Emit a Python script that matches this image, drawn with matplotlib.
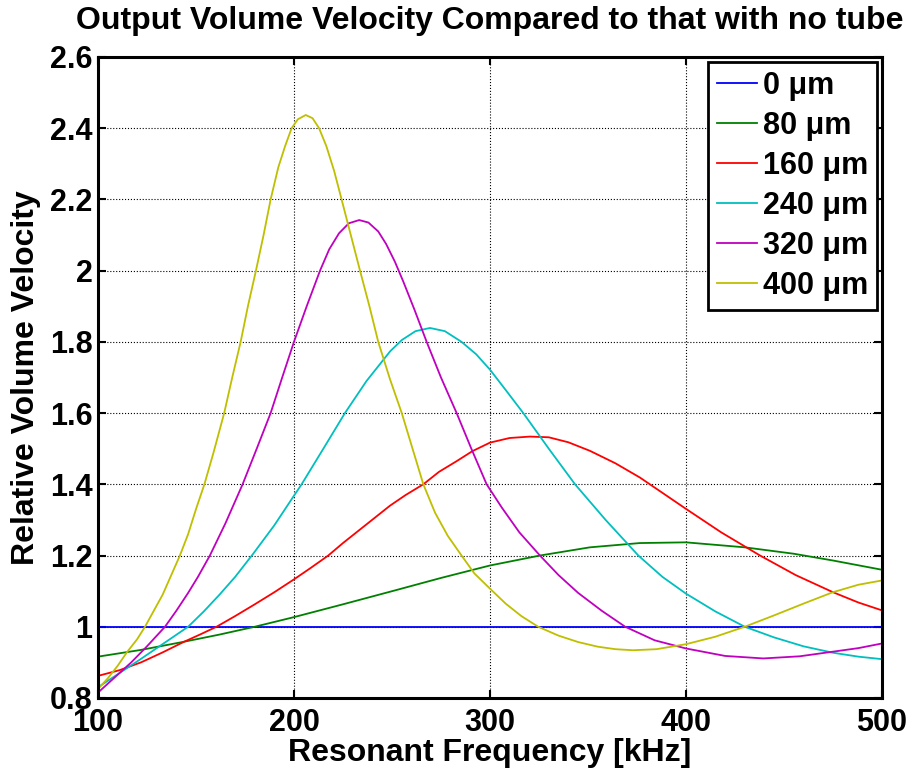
"""
Relative output volume velocity vs resonant frequency
"""
import numpy as np
import matplotlib
matplotlib.use('Agg')
import matplotlib.pyplot as plt

# -----------------------------------------------------------------------------------
# DATA
# -----------------------------------------------------------------------------------
LABELS = ['0 \u03bcm', '80 \u03bcm', '160 \u03bcm', '240 \u03bcm', '320 \u03bcm', '400 \u03bcm']
COLORS = ['#0000ff', '#008000', '#ff0000', '#00bfbf', '#bf00bf', '#bfbf00']

f_0   = [100, 500]
v_0   = [1.0, 1.0]

f_80  = [100, 122, 144, 162, 180, 200, 225, 251.5, 275, 300, 325.5, 351, 376.5, 400,
         430, 455, 475, 500]
v_80  = [0.916, 0.935, 0.958, 0.978, 1.0, 1.027, 1.063, 1.102, 1.137, 1.172, 1.2, 1.223, 1.235, 1.237,
         1.223, 1.205, 1.186, 1.160]

f_160 = [100, 111, 122, 133, 144, 152, 160.5, 170, 180, 190, 200, 208.5, 217.5, 225, 233, 241,
         249, 257, 266, 274, 283, 291, 300, 310, 320.4, 330, 340, 351, 364, 376.5, 388, 400,
         418, 437.8, 456, 475, 488, 500]
v_160 = [0.862, 0.878, 0.90, 0.928, 0.958, 0.978, 1.0, 1.03, 1.063, 1.097, 1.133, 1.165, 1.2, 1.235, 1.27, 1.305,
         1.34, 1.37, 1.4, 1.435, 1.465, 1.493, 1.517, 1.53, 1.534, 1.532, 1.518, 1.494, 1.459, 1.419, 1.376, 1.331,
         1.265, 1.2, 1.145, 1.097, 1.068, 1.046]

f_240 = [100, 111, 122, 134, 146, 154, 162, 170, 179.2, 190, 200, 203.9, 215, 226, 237, 249,
         255, 262, 269.4, 277, 285.5, 293, 300, 308, 317, 330, 343.4, 359, 375.7, 388, 400,
         415, 430, 445, 460, 475, 488, 500]
v_240 = [0.83, 0.87, 0.91, 0.955, 1.0, 1.043, 1.09, 1.14, 1.205, 1.285, 1.368, 1.4, 1.5, 1.6, 1.69, 1.773,
         1.805, 1.83, 1.839, 1.83, 1.8, 1.765, 1.722, 1.665, 1.6, 1.5, 1.4, 1.3, 1.2, 1.14, 1.093,
         1.043, 1.0, 0.97, 0.945, 0.927, 0.916, 0.909]

f_320 = [100, 108, 117, 125, 134.2, 140, 146, 151, 157.1, 165, 173.8, 181, 188.1, 194, 200,
         206.5, 213.3, 218, 223, 228, 233.3, 238, 243, 247, 251.5, 255.8, 261.5, 267.7, 275,
         283, 290.5, 298.3, 306, 315, 325.5, 335, 345, 357, 369, 384, 400, 420, 439.5, 458,
         475, 488, 500]
v_320 = [0.815, 0.855, 0.90, 0.945, 1.0, 1.045, 1.095, 1.14, 1.2, 1.29, 1.4, 1.5, 1.6, 1.7, 1.8,
         1.9, 2.0, 2.06, 2.105, 2.133, 2.142, 2.135, 2.11, 2.075, 2.025, 1.969, 1.89, 1.8, 1.7,
         1.6, 1.5, 1.4, 1.335, 1.265, 1.2, 1.145, 1.095, 1.045, 1.0, 0.962, 0.939, 0.918, 0.911, 0.917,
         0.93, 0.94, 0.953]

f_400 = [100, 105, 110, 115, 120, 124, 128, 133, 137, 141.8, 146, 150, 154.3, 159, 164.4,
         168.5, 172.8, 176.5, 180.6, 184.5, 188.1, 192, 195.5, 198.8, 202, 206, 209.5, 212.8,
         216.5, 220.5, 224.3, 229, 233.7, 238.5, 243, 249, 255, 260.5, 266, 272, 278.5, 285.5,
         292, 300, 308, 316, 324.6, 335, 345, 355, 364, 373, 385, 400, 415, 430, 445, 460,
         475, 488, 500]
v_400 = [0.825, 0.855, 0.89, 0.93, 0.965, 1.0, 1.04, 1.09, 1.14, 1.2, 1.26, 1.33, 1.4, 1.49, 1.6,
         1.7, 1.8, 1.9, 2.0, 2.1, 2.2, 2.29, 2.35, 2.4, 2.425, 2.437, 2.428, 2.4,
         2.35, 2.28, 2.2, 2.1, 2.0, 1.9, 1.8, 1.695, 1.6, 1.5, 1.4, 1.32, 1.255, 1.2,
         1.15, 1.107, 1.065, 1.03, 1.0, 0.975, 0.957, 0.944, 0.937, 0.934, 0.937, 0.951, 0.972, 1.0, 1.032, 1.065,
         1.097, 1.118, 1.130]

FREQS  = [f_0, f_80, f_160, f_240, f_320, f_400]
VALUES = [v_0, v_80, v_160, v_240, v_320, v_400]

# -----------------------------------------------------------------------------------
# PLOT
# -----------------------------------------------------------------------------------
plt.rcParams['font.family'] = ['Liberation Sans', 'DejaVu Sans']
plt.rcParams['font.weight'] = 'bold'

fig = plt.figure(figsize=(9.19, 7.75), dpi=100)
ax = fig.add_axes([0.1066, 0.0994, 0.8531, 0.8271])

for f, v, c, lab in zip(FREQS, VALUES, COLORS, LABELS):
    ax.plot(f, v, color=c, linewidth=1.3, label=lab)

ax.set_xlim(100, 500)
ax.set_ylim(0.8, 2.6)
ax.set_xticks([100, 200, 300, 400, 500])
ax.set_yticks([0.8, 1.0, 1.2, 1.4, 1.6, 1.8, 2.0, 2.2, 2.4, 2.6])
ax.set_yticklabels(['0.8', '1', '1.2', '1.4', '1.6', '1.8', '2', '2.2', '2.4', '2.6'])
ax.tick_params(direction='in', length=6, width=1.5, labelsize=22, top=True, right=True, pad=4)
ax.tick_params(axis='x', pad=7)
ax.grid(which='major', axis='both', color='black', linewidth=0.8, linestyle=':')
for s in ax.spines.values():
    s.set_linewidth(2.2)

ax.set_title('Output Volume Velocity Compared to that with no tube', fontsize=23,
             fontweight='bold', pad=20)
ax.set_xlabel('Resonant Frequency [kHz]', fontsize=23, fontweight='bold', labelpad=0)
ax.set_ylabel('Relative Volume Velocity', fontsize=23, fontweight='bold', labelpad=6)

leg = ax.legend(loc='upper right', fontsize=22, fancybox=False, framealpha=1,
                edgecolor='black', handlelength=1.3, handletextpad=0.2,
                labelspacing=0.33, borderpad=0.3, borderaxespad=0.15)
leg.get_frame().set_linewidth(2)

plt.savefig('out.png', dpi=100)
